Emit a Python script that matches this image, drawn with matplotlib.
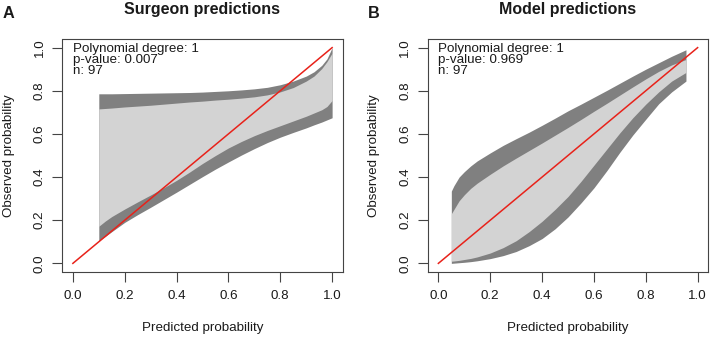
import matplotlib
matplotlib.use('Agg')
import matplotlib.pyplot as plt

plt.rcParams['font.family'] = ['Liberation Sans', 'DejaVu Sans']

# panel A: surgeon predictions
a_x = [0.1, 0.125, 0.15, 0.2, 0.25, 0.3, 0.35, 0.4, 0.45, 0.5, 0.55, 0.6, 0.65,
       0.7, 0.75, 0.8, 0.85, 0.9, 0.93, 0.96, 0.98, 1.0]
a_upper_outer = [0.786, 0.786, 0.786, 0.787, 0.788, 0.789, 0.790, 0.791, 0.792, 0.794, 0.797,
                 0.800, 0.804, 0.809, 0.816, 0.828, 0.845, 0.868, 0.888, 0.918, 0.948, 1.0]
a_upper_inner = [0.716, 0.718, 0.720, 0.725, 0.729, 0.733, 0.738, 0.743, 0.748, 0.752, 0.757,
                 0.761, 0.766, 0.772, 0.781, 0.795, 0.815, 0.845, 0.868, 0.903, 0.935, 0.975]
a_lower_inner = [0.172, 0.196, 0.217, 0.252, 0.285, 0.317, 0.350, 0.385, 0.423, 0.463, 0.500,
                 0.535, 0.565, 0.592, 0.616, 0.638, 0.660, 0.682, 0.697, 0.712, 0.727, 0.755]
a_lower_outer = [0.105, 0.125, 0.147, 0.190, 0.226, 0.260, 0.295, 0.330, 0.366, 0.402, 0.437,
                 0.470, 0.502, 0.532, 0.560, 0.585, 0.607, 0.628, 0.642, 0.655, 0.665, 0.675]

# panel B: model predictions
b_x = [0.05, 0.06, 0.08, 0.1, 0.125, 0.15, 0.2, 0.25, 0.3, 0.35, 0.4, 0.45, 0.5,
       0.55, 0.6, 0.65, 0.7, 0.75, 0.8, 0.85, 0.9, 0.955]
b_upper_outer = [0.335, 0.36, 0.40, 0.425, 0.452, 0.475, 0.512, 0.547, 0.578, 0.608, 0.64,
                 0.673, 0.707, 0.738, 0.77, 0.802, 0.835, 0.868, 0.90, 0.93, 0.96, 0.99]
b_upper_inner = [0.23, 0.25, 0.29, 0.318, 0.348, 0.372, 0.413, 0.452, 0.488, 0.523, 0.558,
                 0.594, 0.63, 0.667, 0.705, 0.742, 0.78, 0.818, 0.855, 0.89, 0.92, 0.945]
b_lower_inner = [0.01, 0.011, 0.014, 0.018, 0.023, 0.03, 0.048, 0.073, 0.105, 0.147, 0.195,
                 0.25, 0.31, 0.38, 0.455, 0.53, 0.605, 0.675, 0.738, 0.795, 0.845, 0.885]
b_lower_outer = [0.0, 0.001, 0.003, 0.005, 0.008, 0.012, 0.022, 0.036, 0.055, 0.082, 0.115,
                 0.16, 0.215, 0.28, 0.35, 0.43, 0.515, 0.595, 0.668, 0.74, 0.795, 0.845]

diag = [0.0, 1.0]
ticks = [0.0, 0.2, 0.4, 0.6, 0.8, 1.0]
tick_labels = ['0.0', '0.2', '0.4', '0.6', '0.8', '1.0']

TXT = '#1a1a1a'
DARK = '#808080'
LIGHT = '#d3d3d3'


def panel(ax, title, x, uo, ui, li, lo, pval):
    ax.fill_between(x, lo, uo, color=DARK, lw=0)
    ax.fill_between(x, li, ui, color=LIGHT, lw=0)
    ax.plot(diag, diag, color='#e8221a', lw=1.1)
    ax.set_xlim(-0.04, 1.04)
    ax.set_ylim(-0.04, 1.04)
    ax.set_xticks(ticks)
    ax.set_xticklabels(tick_labels)
    ax.set_yticks(ticks)
    ax.set_yticklabels(tick_labels, rotation=90, va='center')
    ax.tick_params(direction='out', length=7, width=0.8, color='#444444',
                   labelcolor=TXT, labelsize=9.6)
    ax.tick_params(axis='x', pad=6)
    ax.tick_params(axis='y', pad=5)
    for s in ax.spines.values():
        s.set_color('#444444')
        s.set_linewidth(0.8)
    ax.set_xlabel('Predicted probability', fontsize=9.6, color=TXT, va='center')
    ax.xaxis.set_label_coords(0.5, -0.24)
    ax.set_ylabel('Observed probability', fontsize=9.6, color=TXT, va='center')
    ax.yaxis.set_label_coords(-0.192, 0.5)
    tr = ax.get_xaxis_transform()
    ax.text(0.0, 0.943, 'Polynomial degree: 1', transform=tr, fontsize=9.6, color=TXT, va='baseline')
    ax.text(0.0, 0.896, 'p-value: ' + pval, transform=tr, fontsize=9.6, color=TXT, va='baseline')
    ax.text(0.0, 0.850, 'n: 97', transform=tr, fontsize=9.6, color=TXT, va='baseline')
    ax.text(0.5, (272 - 14) / 233, title, transform=ax.transAxes, ha='center',
            va='baseline', fontsize=11.5, fontweight='bold', color=TXT)


fig = plt.figure(figsize=(7.1, 3.37), dpi=100)
axA = fig.add_axes([62.5 / 710, 65 / 337, 280 / 710, 233 / 337])
axB = fig.add_axes([428 / 710, 65 / 337, 280 / 710, 233 / 337])

panel(axA, 'Surgeon predictions', a_x, a_upper_outer, a_upper_inner,
      a_lower_inner, a_lower_outer, '0.007')
panel(axB, 'Model predictions', b_x, b_upper_outer, b_upper_inner,
      b_lower_inner, b_lower_outer, '0.969')

fig.text(3 / 710, 1 - 17.5 / 337, 'A', fontsize=11.7, fontweight='bold', color=TXT, va='baseline')
fig.text(368 / 710, 1 - 17.5 / 337, 'B', fontsize=11.7, fontweight='bold', color=TXT, va='baseline')

fig.savefig('out.png', dpi=100)
